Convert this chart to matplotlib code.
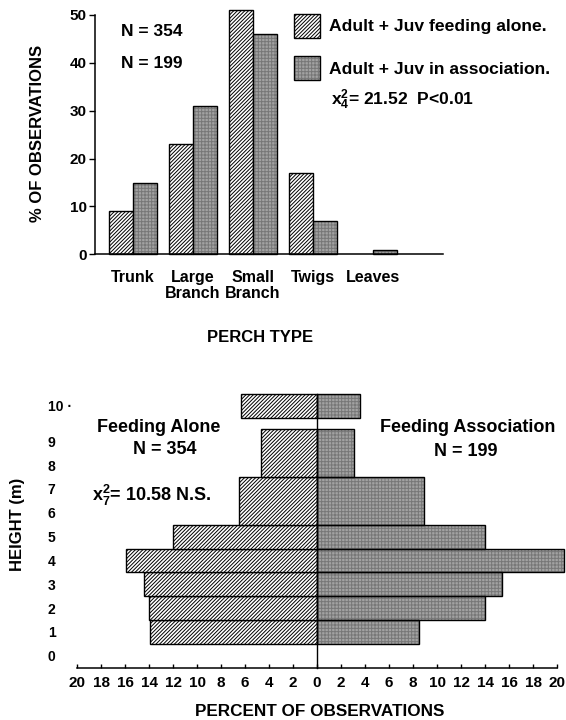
import matplotlib
matplotlib.use("Agg")
import matplotlib.pyplot as plt
from matplotlib.patches import Rectangle

# ---------------- data ----------------
perch_types = ["Trunk", "Large\nBranch", "Small\nBranch", "Twigs", "Leaves"]
perch_alone = [9, 23, 51, 17, 0]
perch_assoc = [15, 31, 46, 7, 1]
perch_yticks = [0, 10, 20, 30, 40, 50]

height_classes = ["1", "2", "3", "4", "5", "6-7", "8-9", "10+"]
height_low = [1, 2, 3, 4, 5, 6, 8, 10.5]    # lowest metre in class
height_high = [1, 2, 3, 4, 5, 7, 9, 10.5]   # highest metre in class
height_alone = [13.9, 14.0, 14.4, 15.9, 12.0, 6.5, 4.7, 6.3]
height_assoc = [8.5, 14.0, 15.4, 20.6, 14.0, 8.9, 3.1, 3.6]
height_ytick_pos = [0, 1, 2, 3, 4, 5, 6, 7, 8, 9, 10.5]
height_ytick_lab = ["0", "1", "2", "3", "4", "5", "6", "7", "8", "9", "10 ·"]
pct_ticks = list(range(-20, 21, 2))

# ---------------- style ----------------
plt.rcParams["font.family"] = ["Liberation Sans", "DejaVu Sans"]
plt.rcParams["font.weight"] = "bold"
plt.rcParams["hatch.linewidth"] = 0.7
plt.rcParams["mathtext.fontset"] = "custom"
plt.rcParams["mathtext.bf"] = "Liberation Sans:bold"
plt.rcParams["mathtext.rm"] = "Liberation Sans:bold"
plt.rcParams["mathtext.default"] = "bf"

HATCH = "/////////"
GRAY = "#a2a2a2"
STIPPLE = "#777777"
W, H = 566, 720

fig = plt.figure(figsize=(W / 100, H / 100), dpi=100)


def fx(px):
    return px / W


def fy(py):
    return 1 - py / H


def hide_empty(bars, values):
    for p, v in zip(bars, values):
        p.set_clip_on(False)
        if v == 0:
            p.set_visible(False)


def draw_hatched(ax, values, horizontal=False, **kw):
    f = ax.barh if horizontal else ax.bar
    b = f(**kw, color="white", edgecolor="black", hatch=HATCH, linewidth=1.0)
    hide_empty(b, values)


def draw_shaded(ax, values, horizontal=False, **kw):
    f = ax.barh if horizontal else ax.bar
    b1 = f(**kw, color=GRAY, edgecolor=STIPPLE, hatch="+++++", linewidth=0)
    b2 = f(**kw, fill=False, edgecolor="black", linewidth=1.0)
    hide_empty(b1, values)
    hide_empty(b2, values)


# ---------------- top chart ----------------
ax1 = fig.add_axes([fx(95), fy(254.3), fx(348), 239.3 / H])
xs = range(len(perch_types))
bw = 0.4
draw_hatched(ax1, perch_alone, x=[i - bw / 2 for i in xs], height=perch_alone, width=bw)
draw_shaded(ax1, perch_assoc, x=[i + bw / 2 for i in xs], height=perch_assoc, width=bw)
ax1.set_xlim(-0.63, 5.17)
ax1.set_ylim(0, 50)
for s in ["top", "right"]:
    ax1.spines[s].set_visible(False)
for s in ["left", "bottom"]:
    ax1.spines[s].set_linewidth(1.1)
ax1.set_yticks(perch_yticks)
ax1.set_yticklabels([str(v) for v in perch_yticks], fontsize=11, fontweight="bold")
ax1.tick_params(axis="y", length=4, width=1, pad=2)
ax1.set_xticks(list(xs))
ax1.set_xticklabels(perch_types, fontsize=11.5, fontweight="bold", linespacing=1.1)
ax1.tick_params(axis="x", length=0, pad=11)

fig.text(fx(37), fy(133), "% OF OBSERVATIONS", rotation=90, ha="center", va="center",
         fontsize=12, fontweight="bold")
fig.text(fx(260.5), fy(337), "PERCH TYPE", ha="center", va="center", fontsize=12,
         fontweight="bold")
fig.text(fx(121), fy(32), "N = 354", ha="left", va="center", fontsize=12.5, fontweight="bold")
fig.text(fx(121), fy(63), "N = 199", ha="left", va="center", fontsize=12.5, fontweight="bold")

# legend
r1 = Rectangle((fx(294.3), fy(37.7)), fx(25.7), 23.7 / H, transform=fig.transFigure,
               facecolor="white", edgecolor="black", hatch=HATCH, linewidth=1.0)
r2a = Rectangle((fx(294.3), fy(80)), fx(25.7), 24 / H, transform=fig.transFigure,
                facecolor=GRAY, edgecolor=STIPPLE, hatch="+++++", linewidth=0)
r2b = Rectangle((fx(294.3), fy(80)), fx(25.7), 24 / H, transform=fig.transFigure,
                fill=False, edgecolor="black", linewidth=1.0)
for r in (r1, r2a, r2b):
    fig.patches.append(r)
fig.text(fx(329), fy(26), "Adult + Juv feeding alone.", ha="left", va="center",
         fontsize=12.6, fontweight="bold")
fig.text(fx(329), fy(69), "Adult + Juv in association.", ha="left", va="center",
         fontsize=12.6, fontweight="bold")
fig.text(fx(331), fy(100), r"x$_{4}^{2}$= 21.52  P<0.01", ha="left", va="center",
         fontsize=12.6, fontweight="bold")

# ---------------- bottom chart ----------------
ylo, yhi = -0.52, 11.1
ax2 = fig.add_axes([fx(77), fy(668), fx(480), 276.6 / H])
centers = [(lo + hi) / 2 for lo, hi in zip(height_low, height_high)]
heights = [hi - lo + 1 for lo, hi in zip(height_low, height_high)]
draw_hatched(ax2, height_alone, horizontal=True, y=centers,
             width=[-v for v in height_alone], height=heights, left=0)
draw_shaded(ax2, height_assoc, horizontal=True, y=centers, width=height_assoc,
            height=heights, left=0)
ax2.plot([0, 0], [ylo, 11.0], color="black", linewidth=1.0, clip_on=False)
ax2.set_xlim(-20, 20)
ax2.set_ylim(ylo, yhi)
for s in ["top", "right", "left"]:
    ax2.spines[s].set_visible(False)
ax2.spines["bottom"].set_linewidth(1.1)
ax2.set_xticks(pct_ticks)
ax2.set_xticklabels([str(abs(v)) for v in pct_ticks], fontsize=11, fontweight="bold")
ax2.tick_params(axis="x", length=3, width=1, direction="in", pad=6)
ax2.set_yticks(height_ytick_pos)
ax2.set_yticklabels(height_ytick_lab, fontsize=10, fontweight="bold")
for lab in ax2.get_yticklabels():
    lab.set_horizontalalignment("left")
ax2.tick_params(axis="y", length=0, pad=21)

fig.text(fx(18), fy(524), "HEIGHT (m)", rotation=90, ha="center", va="center",
         fontsize=12, fontweight="bold")
fig.text(fx(320), fy(711), "PERCENT OF OBSERVATIONS", ha="center", va="center",
         fontsize=12.3, fontweight="bold")
fig.text(fx(159), fy(427), "Feeding Alone", ha="center", va="center", fontsize=13,
         fontweight="bold")
fig.text(fx(165), fy(450), "N = 354", ha="center", va="center", fontsize=13,
         fontweight="bold")
fig.text(fx(92), fy(495), r"x$_{7}^{2}$= 10.58 N.S.", ha="left", va="center", fontsize=13,
         fontweight="bold")
fig.text(fx(467.5), fy(428), "Feeding Association", ha="center", va="center",
         fontsize=13, fontweight="bold")
fig.text(fx(466), fy(451), "N = 199", ha="center", va="center", fontsize=13,
         fontweight="bold")

fig.savefig("out.png", dpi=100)
